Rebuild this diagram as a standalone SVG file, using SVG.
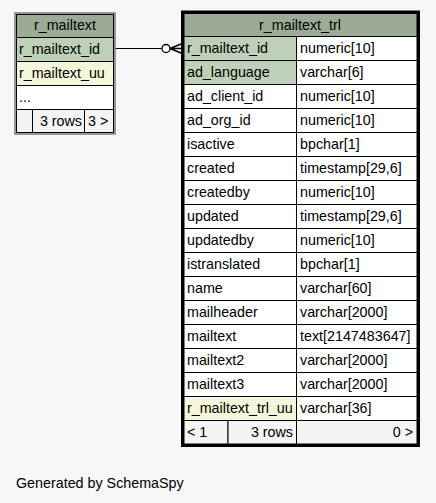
<svg xmlns="http://www.w3.org/2000/svg" width="436" height="503" viewBox="0 0 436 503">
<style>
text{font-family:"Liberation Sans",Arial,sans-serif;font-size:14.3px;fill:#000}
.c{stroke:#000;stroke-width:1}
.w{fill:#fff}
.h{fill:#9bab96}
.k{fill:#bed1b8}
.u{fill:#f4f7da}
.f{fill:#f4f4f4}
.m{text-anchor:middle}
.e{text-anchor:end}
</style>
<rect width="436" height="503" fill="#f7f7f7"/>
<g id="connectors">
<line x1="115" y1="48.5" x2="162" y2="48.5" stroke="#000" stroke-width="1"/>
<circle cx="166" cy="48.5" r="4" fill="#fff" stroke="#000" stroke-width="1.3"/>
<path d="M170 48.5 L181 48.5 M170 48.5 L181 44 M170 48.5 L181 53" stroke="#000" stroke-width="1.5" fill="none"/>
</g>
<g id="r_mailtext">
<rect x="15" y="13" width="100" height="121" fill="#fff" stroke="#777" stroke-width="1.5"/>
<rect class="c h" x="16.5" y="14.5" width="97" height="23"/>
<text class="m" x="65" y="30">r_mailtext</text>
<rect class="c k" x="16.5" y="37.5" width="97" height="24"/>
<text x="19" y="54">r_mailtext_id</text>
<rect class="c u" x="16.5" y="61.5" width="97" height="24"/>
<text x="19" y="78">r_mailtext_uu</text>
<rect class="c w" x="16.5" y="85.5" width="97" height="24"/>
<text x="19" y="102">...</text>
<rect class="c f" x="16.5" y="109.5" width="16" height="23"/>
<rect class="c f" x="32.5" y="109.5" width="52" height="23"/>
<text class="e" x="82" y="126">3 rows</text>
<rect class="c f" x="84.5" y="109.5" width="29" height="23"/>
<text x="88" y="126">3 &gt;</text>
</g>
<g id="r_mailtext_trl">
<rect x="182.5" y="12" width="236" height="433.5" fill="#fff" stroke="#000" stroke-width="3"/>
<rect class="c h" x="184" y="13.5" width="233" height="23"/>
<text class="m" x="300" y="30">r_mailtext_trl</text>
<rect class="c k" x="184" y="36.5" width="112.5" height="24"/>
<rect class="c w" x="296.5" y="36.5" width="120.5" height="24"/>
<text x="187" y="53">r_mailtext_id</text><text x="300" y="53">numeric[10]</text>
<rect class="c k" x="184" y="60.5" width="112.5" height="24"/>
<rect class="c w" x="296.5" y="60.5" width="120.5" height="24"/>
<text x="187" y="77">ad_language</text><text x="300" y="77">varchar[6]</text>
<rect class="c w" x="184" y="84.5" width="112.5" height="24"/>
<rect class="c w" x="296.5" y="84.5" width="120.5" height="24"/>
<text x="187" y="101">ad_client_id</text><text x="300" y="101">numeric[10]</text>
<rect class="c w" x="184" y="108.5" width="112.5" height="24"/>
<rect class="c w" x="296.5" y="108.5" width="120.5" height="24"/>
<text x="187" y="125">ad_org_id</text><text x="300" y="125">numeric[10]</text>
<rect class="c w" x="184" y="132.5" width="112.5" height="24"/>
<rect class="c w" x="296.5" y="132.5" width="120.5" height="24"/>
<text x="187" y="149">isactive</text><text x="300" y="149">bpchar[1]</text>
<rect class="c w" x="184" y="156.5" width="112.5" height="24"/>
<rect class="c w" x="296.5" y="156.5" width="120.5" height="24"/>
<text x="187" y="173">created</text><text x="300" y="173">timestamp[29,6]</text>
<rect class="c w" x="184" y="180.5" width="112.5" height="24"/>
<rect class="c w" x="296.5" y="180.5" width="120.5" height="24"/>
<text x="187" y="197">createdby</text><text x="300" y="197">numeric[10]</text>
<rect class="c w" x="184" y="204.5" width="112.5" height="24"/>
<rect class="c w" x="296.5" y="204.5" width="120.5" height="24"/>
<text x="187" y="221">updated</text><text x="300" y="221">timestamp[29,6]</text>
<rect class="c w" x="184" y="228.5" width="112.5" height="24"/>
<rect class="c w" x="296.5" y="228.5" width="120.5" height="24"/>
<text x="187" y="245">updatedby</text><text x="300" y="245">numeric[10]</text>
<rect class="c w" x="184" y="252.5" width="112.5" height="24"/>
<rect class="c w" x="296.5" y="252.5" width="120.5" height="24"/>
<text x="187" y="269">istranslated</text><text x="300" y="269">bpchar[1]</text>
<rect class="c w" x="184" y="276.5" width="112.5" height="24"/>
<rect class="c w" x="296.5" y="276.5" width="120.5" height="24"/>
<text x="187" y="293">name</text><text x="300" y="293">varchar[60]</text>
<rect class="c w" x="184" y="300.5" width="112.5" height="24"/>
<rect class="c w" x="296.5" y="300.5" width="120.5" height="24"/>
<text x="187" y="317">mailheader</text><text x="300" y="317">varchar[2000]</text>
<rect class="c w" x="184" y="324.5" width="112.5" height="24"/>
<rect class="c w" x="296.5" y="324.5" width="120.5" height="24"/>
<text x="187" y="341">mailtext</text><text x="300" y="341">text[2147483647]</text>
<rect class="c w" x="184" y="348.5" width="112.5" height="24"/>
<rect class="c w" x="296.5" y="348.5" width="120.5" height="24"/>
<text x="187" y="365">mailtext2</text><text x="300" y="365">varchar[2000]</text>
<rect class="c w" x="184" y="372.5" width="112.5" height="24"/>
<rect class="c w" x="296.5" y="372.5" width="120.5" height="24"/>
<text x="187" y="389">mailtext3</text><text x="300" y="389">varchar[2000]</text>
<rect class="c u" x="184" y="396.5" width="112.5" height="24"/>
<rect class="c w" x="296.5" y="396.5" width="120.5" height="24"/>
<text x="187" y="413">r_mailtext_trl_uu</text><text x="300" y="413">varchar[36]</text>
<rect class="c f" x="184" y="420.5" width="44" height="23.5"/>
<text x="187" y="437">&lt; 1</text>
<rect class="c f" x="228" y="420.5" width="68.5" height="23.5"/>
<text class="e" x="293" y="437">3 rows</text>
<rect class="c f" x="296.5" y="420.5" width="120.5" height="23.5"/>
<text class="e" x="413" y="437">0 &gt;</text>
</g>
<text x="16" y="488">Generated by SchemaSpy</text>
</svg>
